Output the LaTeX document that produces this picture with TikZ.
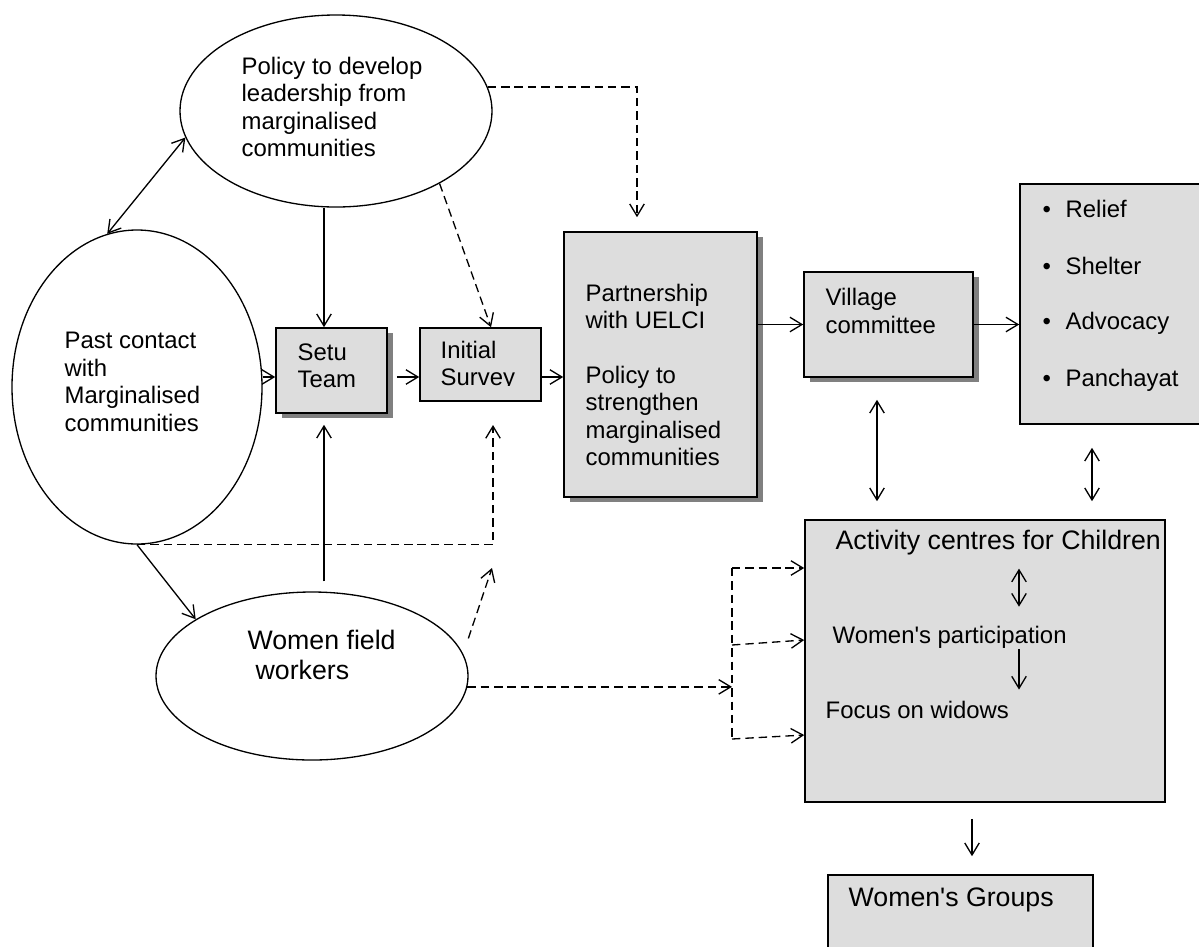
\documentclass[tikz,border=0pt]{standalone}
\usepackage{fontspec}
\setmainfont{Liberation Sans}
\usetikzlibrary{arrows.meta,shapes.geometric,shadows,fit}
\definecolor{boxgray}{RGB}{221,221,221}
\definecolor{shgray}{RGB}{128,128,128}
\begin{document}
\begin{tikzpicture}[x=0.2mm,y=-0.2mm,line width=0.75pt,
  >={Straight Barb[length=2.4mm,width=2.9mm]},
  box/.style={draw,line width=0.9pt,fill=boxgray,inner sep=0pt},
  shbox/.style={box,drop shadow={shadow xshift=1.1mm,shadow yshift=-1mm,fill=shgray,opacity=1}},
  oval/.style={draw,ellipse,inner sep=0pt},
  txt/.style={inner sep=0pt,align=left,font=\fontsize{13.6}{15.6}\selectfont},
  big/.style={inner sep=0pt,align=left,font=\fontsize{15.2}{17}\selectfont},
  dsh/.style={dash pattern=on 4.8pt off 2.8pt},
  arr/.style={->},
  darr/.style={->,dsh},
  dbl/.style={<->}]
\useasboundingbox (0,0) rectangle (1199,946);
\clip (0,0) rectangle (1199,946);
% ellipses
\node[oval,minimum width=62.4mm,minimum height=38.4mm] (policy) at (336,111) {};
\node[oval,minimum width=50mm,minimum height=62.8mm] (past) at (137,387) {};
\node[oval,minimum width=62.4mm,minimum height=33.6mm] (women) at (312,676) {};
\node[txt,anchor=west] (policyt) at (241,107) {Policy to develop\\leadership from\\marginalised\\communities};
\node[txt,anchor=west] (pastt) at (64,382) {Past contact\\with\\Marginalised\\communities};
\node[big,anchor=west] (woment) at (247,655) {Women field\\\hspace*{1.6mm}workers};
% boxes
\node[shbox,fit={(276,328) (387,413)}] (setu) {};
\node[box,fit={(420,328) (541,401)}] (survey) {};
\node[shbox,fit={(564,232) (757,497)}] (partner) {};
\node[shbox,fit={(804,272) (973,377)}] (village) {};
\node[box,fit={(1020,184) (1215,424)}] (aims) {};
\node[box,fit={(805,520) (1165,802)}] (acts) {};
\node[box,fit={(828,875) (1093,960)}] (groups) {};
\node[txt,anchor=west] (setut) at (297,366) {Setu\\Team};
\begin{scope}
\clip (420,328) rectangle (541,385);
\node[txt,anchor=west] (surveyt) at (440,366) {Initial\\Survey};
\end{scope}
\node[txt,anchor=west] (partnert) at (585,375) {Partnership\\with UELCI\\[15.6pt]Policy to\\strengthen\\marginalised\\communities};
\node[txt,anchor=west] (villaget) at (825,311) {Village\\committee};
\foreach \aim [count=\i] in {Relief,Shelter,Advocacy,Panchayat}
  \node[txt,anchor=west] (aim\i) at (1042,{209+57*(\i-1)}) {\makebox[4.6mm][l]{\textbullet}\aim};
\node[big,anchor=west] (act1) at (835,543) {Activity centres for Children};
\node[txt,anchor=west] (act2) at (832,637) {Women\textquotesingle s participation};
\node[txt,anchor=west] (act3) at (825,710) {Focus on widows};
\node[big,anchor=west] (groupst) at (848,900) {Women\textquotesingle s Groups};
% helper points
\coordinate (row) at (0,377);
\coordinate (tx) at (324,0);
\coordinate (vx) at (877,0);
\coordinate (ax) at (1092,0);
\coordinate (gx) at (972,0);
\coordinate (ix) at (1019,0);
\coordinate (sv) at (493,425);
\coordinate (wv) at (492,568);
\coordinate (fork) at (732,688);
\coordinate (f1) at (732,568);
\coordinate (f2) at (732,645);
\coordinate (f3) at (732,739);
% solid connectors
\draw[dbl] (past.101) -- (policy.190);
\draw[arr] (policy.south -| tx) -- (setu.north -| tx);
\draw[arr] (past.south) -- (women.154);
\draw[arr,shorten <=2mm,shorten >=2.2mm] (women.north -| tx) -- (setu.south -| tx);
\draw[arr] (past.east |- row) -- (setu.west |- row);
\draw[arr,shorten <=1.8mm] (setu.east |- row) -- (survey.west |- row);
\draw[arr] (survey.east |- row) -- (partner.west |- row);
\draw[arr] (partner.east |- village.west) -- (village.west);
\draw[arr] (village.east) -- (village.east -| aims.west);
\draw[dbl,shorten <=4.4mm,shorten >=3.6mm] (village.south -| vx) -- (acts.north -| vx);
\draw[dbl,shorten <=4.6mm,shorten >=3.6mm] (aims.south -| ax) -- (acts.north -| ax);
\draw[arr,shorten <=3.2mm,shorten >=3.6mm] (acts.south -| gx) -- (groups.north -| gx);
\draw[dbl,shorten <=2.5mm,shorten >=3.7mm] (act1.south -| ix) -- (act2.north -| ix);
\draw[arr,shorten >=2.2mm] (act2.south -| ix) -- (act3.north -| ix);
% dashed connectors
\draw[darr] (policy.-35) -- ([xshift=2.1mm]survey.north);
\draw[darr] (policy.9) -| ([xshift=-4.7mm,yshift=2.8mm]partner.north);
\draw[darr] (past.south) -| (sv);
\draw[darr] ([xshift=3.2mm]women.15) -- (wv);
\draw[darr] (women.-4) -- (women.-4 -| fork);
\draw[dsh] (f1) -- (f3);
\draw[darr] (f1) -- (f1 -| acts.west);
\draw[darr] (f2) -- ([yshift=1mm]f2 -| acts.west);
\draw[darr] (f3) -- ([yshift=0.8mm]f3 -| acts.west);
\end{tikzpicture}
\end{document}
